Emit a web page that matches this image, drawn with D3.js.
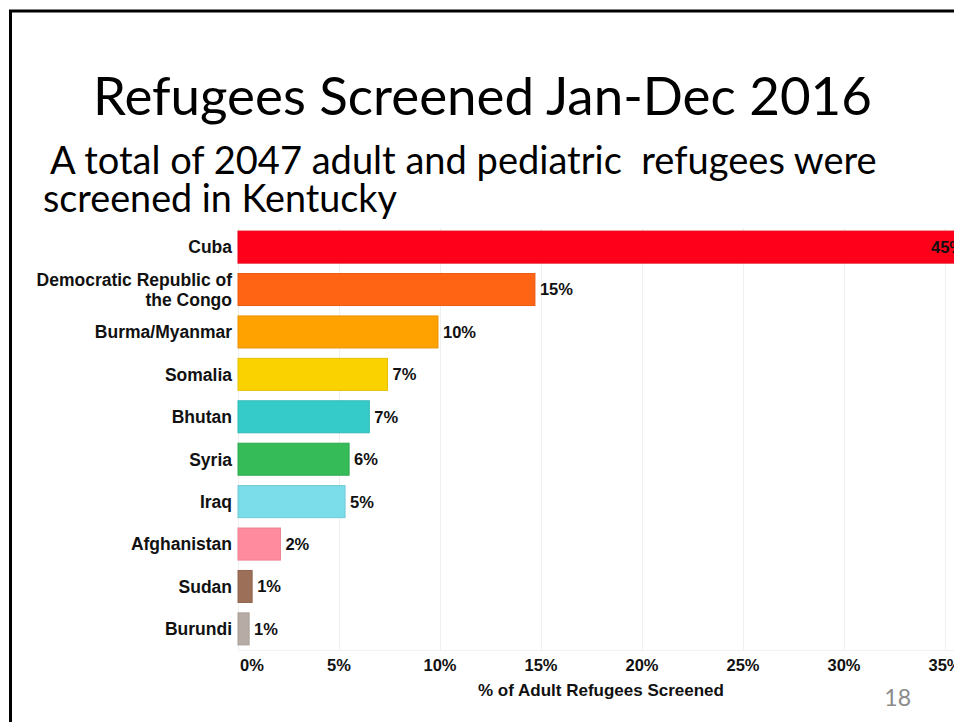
<!DOCTYPE html>
<html>
<head>
<meta charset="utf-8">
<script src="https://cdn.jsdelivr.net/npm/d3@7"></script>
<style>
  html, body { margin: 0; padding: 0; background: #fff; }
  svg { display: block; }
  .slide-text { font-family: Lato, "Open Sans", sans-serif; fill: #000; }
  .chart-text { font-family: "Liberation Sans", Arial, sans-serif; font-weight: bold; fill: #111; }
</style>
</head>
<body>
<div id="chart"></div>
<script>
// data
let countries = ["Cuba", "Democratic Republic of the Congo", "Burma/Myanmar", "Somalia", "Bhutan",
    "Syria", "Iraq", "Afghanistan", "Sudan", "Burundi"];
let shares = [45, 14.7, 9.9, 7.4, 6.5, 5.5, 5.3, 2.1, 0.7, 0.55];
let barColors = ["#ff001a", "#ff6415", "#ffa200", "#fad200", "#35cbc8",
    "#35bb58", "#7bdcea", "#ff8c9e", "#9c6f58", "#b7aca5"];
let xTicks = [0, 5, 10, 15, 20, 25, 30, 35];

let title = "Refugees Screened Jan-Dec 2016";
let subtitleLines = ["A total of 2047 adult and pediatric  refugees were", "screened in Kentucky"];
let axisTitle = "% of Adult Refugees Screened";
let pageNumber = "18";

const W = 954, H = 722;

let svg = d3.select("#chart").append("svg")
    .attr("width", W)
    .attr("height", H);

// slide frame (right and bottom edges fall outside the picture)
svg.append("path")
    .attr("d", `M10.5,${H + 5} V11 H${W + 5}`)
    .attr("fill", "none")
    .attr("stroke", "#000")
    .attr("stroke-width", 3);

// fit a text element to a target width
function fitText(sel, target) {
    let len = sel.node().getComputedTextLength();
    let fs = parseFloat(sel.attr("font-size"));
    sel.attr("font-size", fs * target / len);
}

let t = svg.append("text")
    .attr("class", "slide-text")
    .attr("x", 93)
    .attr("y", 115)
    .attr("font-size", 52)
    .text(title);
fitText(t, 779);

let subY = [174, 212];
let subX = [50, 43];
let subW = [827, 354];
subtitleLines.forEach((line, i) => {
    let s = svg.append("text")
        .attr("class", "slide-text")
        .attr("x", subX[i])
        .attr("y", subY[i])
        .attr("font-size", 37)
        .style("white-space", "pre")
        .text(line);
    fitText(s, subW[i]);
});

// chart
let x = d3.scaleLinear().domain([0, 35]).range([238, 945]);
let y = d3.scaleBand().domain(countries).range([226, 650])
    .paddingInner(0.245).paddingOuter(0.12);

let chart = svg.append("g");

// gridlines
chart.append("g")
    .selectAll("line")
    .data(xTicks.concat([40]))
    .join("line")
    .attr("x1", d => x(d) + 0.5)
    .attr("x2", d => x(d) + 0.5)
    .attr("y1", 228)
    .attr("y2", 650)
    .attr("stroke", "#efefef")
    .attr("stroke-width", 1);

chart.append("line")
    .attr("x1", x(0)).attr("x2", W)
    .attr("y1", 650.5).attr("y2", 650.5)
    .attr("stroke", "#f2f2f2");

// bars
chart.append("g")
    .selectAll("rect")
    .data(countries)
    .join("rect")
    .attr("x", x(0))
    .attr("y", d => y(d))
    .attr("width", (d, i) => x(shares[i]) - x(0))
    .attr("height", y.bandwidth())
    .attr("fill", (d, i) => barColors[i])
    .attr("stroke", (d, i) => d3.color(barColors[i]).darker(0.25))
    .attr("stroke-width", 1);

// value labels
let fmt = d3.format(".0f");
chart.append("g")
    .selectAll("text")
    .data(countries)
    .join("text")
    .attr("class", "chart-text")
    .attr("font-size", 16.5)
    .attr("x", (d, i) => Math.min(x(shares[i]) + 5, W - 23))
    .attr("y", d => y(d) + y.bandwidth() / 2)
    .attr("dy", "0.36em")
    .text((d, i) => fmt(shares[i]) + "%");

// category labels
let labels = chart.append("g")
    .selectAll("text")
    .data(countries)
    .join("text")
    .attr("class", "chart-text")
    .attr("font-size", 17.5)
    .attr("text-anchor", "end")
    .attr("x", 232)
    .attr("y", d => y(d) + y.bandwidth() / 2);

labels.each(function (d) {
    let el = d3.select(this);
    let parts = d.length > 20 ? ["Democratic Republic of", "the Congo"] : [d];
    parts.forEach((p, k) => {
        el.append("tspan")
            .attr("x", 232)
            .attr("dy", k === 0 ? (0.36 - (parts.length - 1) * 0.56) + "em" : "1.12em")
            .text(p);
    });
});

// x axis tick labels
chart.append("g")
    .selectAll("text")
    .data(xTicks)
    .join("text")
    .attr("class", "chart-text")
    .attr("font-size", 16.5)
    .attr("text-anchor", d => d === 0 ? "start" : "middle")
    .attr("x", d => d === 0 ? x(d) + 2 : x(d))
    .attr("y", 671)
    .text(d => d + "%");

chart.append("text")
    .attr("class", "chart-text")
    .attr("font-size", 17)
    .attr("text-anchor", "middle")
    .attr("x", 601)
    .attr("y", 696)
    .text(axisTitle);

svg.append("text")
    .attr("class", "slide-text")
    .attr("font-size", 23)
    .attr("text-anchor", "end")
    .attr("x", 911)
    .attr("y", 706)
    .style("fill", "#8b8b8b")
    .text(pageNumber);
</script>
</body>
</html>
